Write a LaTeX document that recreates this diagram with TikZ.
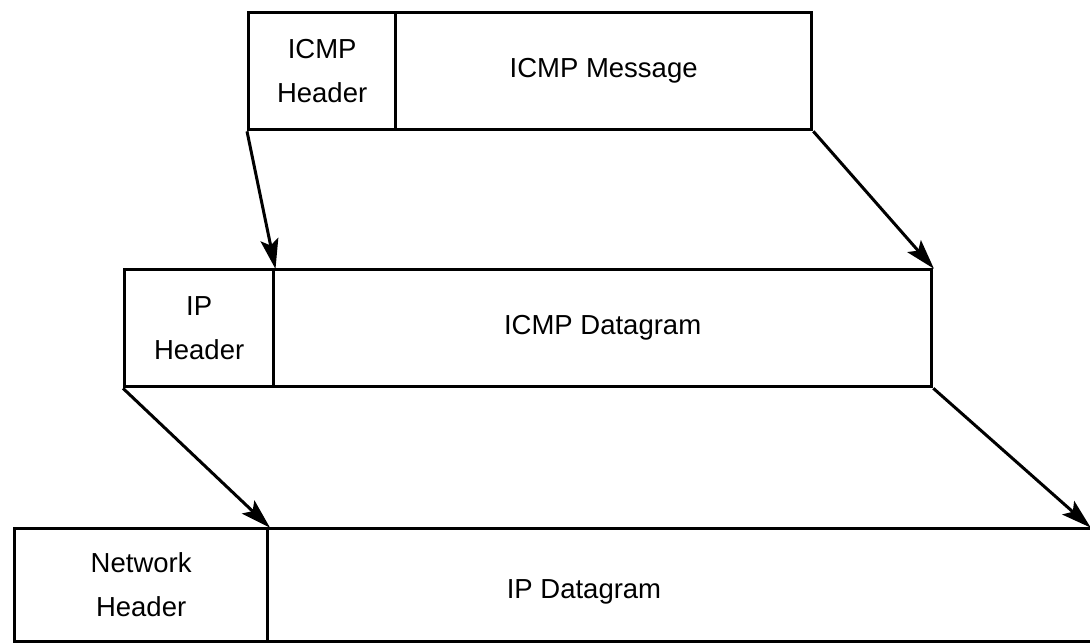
\documentclass[tikz,border=0pt]{standalone}
\usepackage{fontspec}
\setmainfont{Liberation Sans}
\usetikzlibrary{arrows.meta}
\begin{document}
\begin{tikzpicture}[x=1pt,y=-1pt,
  cell/.style={draw, line width=3.3pt, inner sep=0pt, anchor=north west,
    align=center, font=\fontsize{27.5}{44}\selectfont},
  wrap/.style={line width=3pt, -{Stealth[length=30pt,width=18pt,inset=6pt]}, shorten >=-1pt}
]
\useasboundingbox (0,0) rectangle (1090,643);

% ICMP layer
\node[cell, minimum width=147pt, minimum height=117pt] (ih) at (247,11) {ICMP\\Header};
\node[cell, minimum width=416pt, minimum height=117pt] (im) at (394,11) {ICMP Message};

% IP layer
\node[cell, minimum width=149pt, minimum height=117pt] (iph) at (123,268) {IP\\Header};
\node[cell, minimum width=658pt, minimum height=117pt] (dg) at (272,268) {ICMP Datagram};

% Network layer (frame runs past the right edge)
\node[cell, minimum width=253pt, minimum height=113pt] (nh) at (13,527) {Network\\Header};
\node[cell, minimum width=860pt, minimum height=113pt] (nd) at (266,527) {};
\node[font=\fontsize{27.5}{44}\selectfont] (ndtext) at (584,592) {IP Datagram};
\coordinate (ndedge) at (1090,527);

% Encapsulation arrows
\draw[wrap] (ih.south west) -- (iph.north east);
\draw[wrap] (im.south east) -- (dg.north east);
\draw[wrap] (iph.south west) -- (nh.north east);
\draw[wrap] (dg.south east) -- (ndedge);
\end{tikzpicture}
\end{document}
